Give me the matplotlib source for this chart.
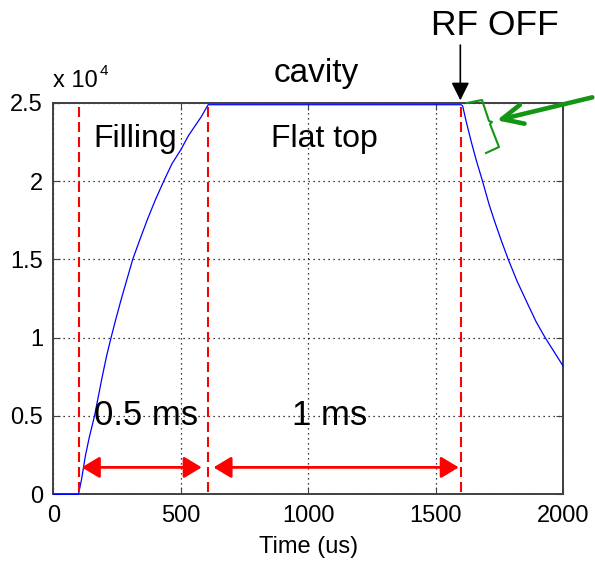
import matplotlib
matplotlib.use('Agg')
import matplotlib.pyplot as plt
from matplotlib.lines import Line2D
from matplotlib.patches import FancyArrowPatch
from matplotlib.ticker import FuncFormatter

plt.rcParams['font.family'] = ['Liberation Sans', 'DejaVu Sans']

# cavity field, time in us
time_us = [0, 98, 110, 125, 140, 161, 190, 208, 226, 245, 265, 288, 311, 340, 370, 400,
           433, 465, 500, 530, 555, 580, 607,
           1600, 1606, 1620, 1640, 1660, 1684, 1710, 1730, 1760, 1785, 1820, 1860,
           1895, 1930, 1965, 2000]
field = [0, 0, 940, 2440, 3600, 5000, 7400, 8800, 10000, 11200, 12400, 13700, 15000,
         16300, 17600, 18800, 20000, 21100, 22000, 22900, 23500, 24100, 24870,
         24870, 24800, 23800, 22500, 21300, 20000, 18500, 17500, 16100, 15000, 13600,
         12200, 11000, 10000, 9100, 8200]

phase_marks = [100, 608, 1598]          # red dashed lines
spans = [(111, 582), (628, 1591)]       # red double arrows
span_labels = ['0.5 ms', '1 ms']
span_label_x = [363, 1082]
phase_names = ['Filling', 'Flat top']
phase_name_x = [320, 1063]

xticks = [0, 500, 1000, 1500, 2000]
yticks = [0, 5000, 10000, 15000, 20000, 25000]

fig = plt.figure(figsize=(5.95, 5.72), dpi=100)
ax = fig.add_axes([0.0899, 0.1358, 0.8563, 0.6847])

ax.plot(time_us, field, color='#0000ff', lw=0.9, zorder=3, clip_on=False)

for xm in phase_marks:
    ax.axvline(xm, ymin=0.005, ymax=0.995, color='red', lw=1.5,
               linestyle=(0, (4.8, 2.4)), zorder=4)

for (a, b) in spans:
    ax.annotate('', xy=(b, 1720), xytext=(a, 1720),
                arrowprops=dict(arrowstyle='<|-|>,head_length=0.4,head_width=0.24',
                                mutation_scale=27, color='red', lw=2,
                                shrinkA=0, shrinkB=0), zorder=5)

for lab, xl in zip(span_labels, span_label_x):
    ax.text(xl, 4400, lab, ha='center', va='baseline', fontsize=25)

for lab, xl in zip(phase_names, phase_name_x):
    ax.text(xl, 22200, lab, ha='center', va='baseline', fontsize=23)

ax.set_xlim(0, 2000)
ax.set_ylim(0, 25000)
ax.set_xticks(xticks)
ax.set_yticks(yticks)
ax.yaxis.set_major_formatter(FuncFormatter(lambda v, p: '%g' % (v / 1e4)))
ax.tick_params(direction='in', length=5, top=True, right=True, labelsize=17,
               color='#404040')
ax.tick_params(axis='y', pad=7.5)
ax.tick_params(axis='x', pad=8)
ax.grid(True, color='black', linestyle=(0, (1, 3)), lw=0.9)
for s in ax.spines.values():
    s.set_color('#404040')
    s.set_linewidth(1.4)
ax.set_xlabel('Time (us)', fontsize=17, labelpad=6)

# exponent label
fig.text(0.089, 0.8484, 'x 10', fontsize=17, ha='left', va='baseline')
fig.text(0.168, 0.869, '4', fontsize=11, ha='left', va='baseline')

fig.text(0.532, 0.857, 'cavity', fontsize=24, ha='center', va='baseline')
fig.text(0.831, 0.939, 'RF OFF', fontsize=25.5, ha='center', va='baseline')

# black arrow pointing at RF off
ax.annotate('', xy=(1597, 1.006), xycoords=('data', 'axes fraction'),
            xytext=(1597, 1.147), textcoords=('data', 'axes fraction'),
            arrowprops=dict(arrowstyle='-|>,head_length=0.4,head_width=0.2',
                            mutation_scale=27, color='black', lw=1.2,
                            shrinkA=0, shrinkB=0))

# green bracket + arrow
green = '#149614'
bx = [467, 482, 489, 492, 490, 499, 486]
by = [103, 100, 121, 122, 124, 147, 153]
fig.add_artist(Line2D([v / 595 for v in bx], [1 - v / 572 for v in by],
                      transform=fig.transFigure, color=green, lw=1.5))
fig.add_artist(FancyArrowPatch((1.0, 1 - 96.7 / 572), (494 / 595, 1 - 121 / 572),
                               transform=fig.transFigure,
                               arrowstyle='->,head_length=1.5,head_width=0.7',
                               mutation_scale=10, color=green, lw=3.3,
                               capstyle='round', joinstyle='round'))

fig.savefig('out.png', dpi=100)
